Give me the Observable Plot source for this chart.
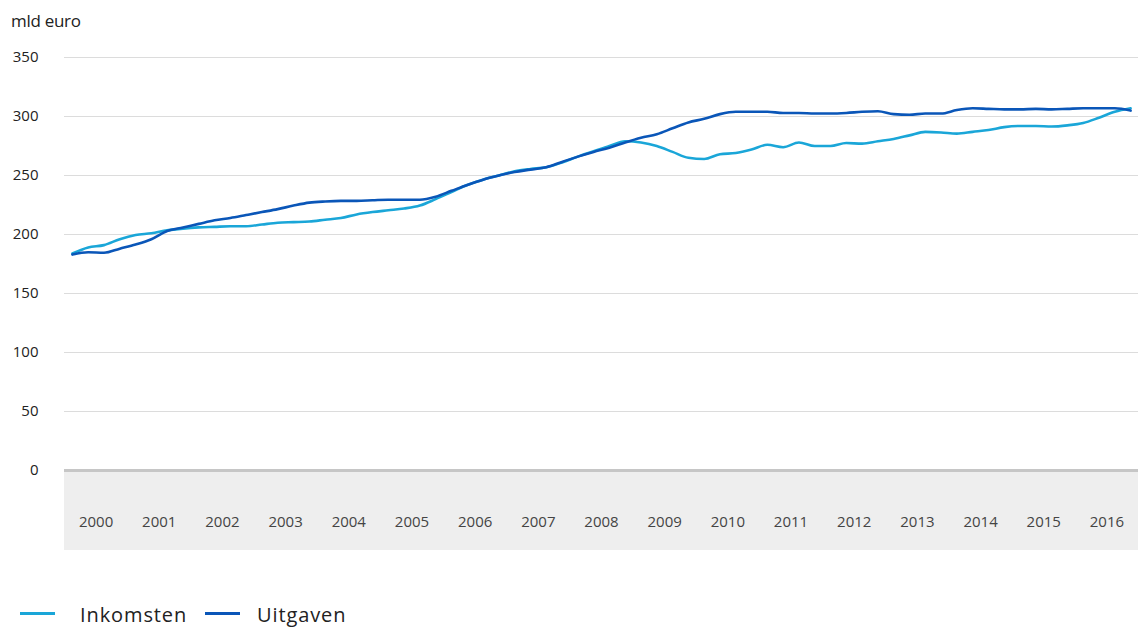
<!DOCTYPE html>
<html>
<head>
<meta charset="utf-8">
<script src="https://cdn.jsdelivr.net/npm/d3@7"></script>
<script src="https://cdn.jsdelivr.net/npm/@observablehq/plot@0.6"></script>
<style>
  html, body { margin: 0; padding: 0; background: #fff; }
  #wrap { position: relative; width: 1140px; height: 628px; overflow: hidden; font-family: "Open Sans", "Noto Sans", sans-serif; }
  #band { position: absolute; left: 64px; top: 471px; width: 1074px; height: 79px; background: #eeeeee; }
  #chart { position: absolute; left: 0; top: 0; }
  #unit { position: absolute; left: 11px; top: 9px; font-size: 17px; color: #222; letter-spacing: -0.3px; }
  #legend { position: absolute; left: 0; top: 600px; width: 600px; height: 26px; font-size: 20px; line-height: 24px; color: #222; }
  .sw { position: absolute; top: 12px; width: 35px; height: 3px; }
  .lab { position: absolute; top: 3px; letter-spacing: 0.9px; white-space: nowrap; }
</style>
</head>
<body>
<div id="wrap">
  <div id="band"></div>
  <div id="chart"></div>
  <div id="unit">mld euro</div>
  <div id="legend"></div>
</div>
<script>
const years = [2000, 2001, 2002, 2003, 2004, 2005, 2006, 2007, 2008, 2009, 2010, 2011, 2012, 2013, 2014, 2015, 2016];
const seriesNames = ["Inkomsten", "Uitgaven"];
const seriesColors = ["#1aa6d8", "#0a56b8"];
const yTicks = [0, 50, 100, 150, 200, 250, 300, 350];

// quarterly values, 2000 Q1 .. 2016 Q4 (mld euro)
const inkomsten = [
  184, 189, 191, 196,
  199.5, 201, 203.5, 205,
  206, 206.5, 207, 207,
  208.5, 210, 210.5, 211,
  212.5, 214, 217, 219,
  220.5, 222, 224.5, 230,
  236, 242, 246.5, 250,
  253.5, 255.5, 257, 261,
  266, 270.5, 275, 279,
  278, 275, 270, 265,
  264, 268, 269, 272,
  276, 274, 278, 275,
  275, 277.5, 277, 279,
  281, 284, 287, 286.5,
  285.5, 287, 288.5, 291,
  292, 292, 291.5, 292.5,
  294.5, 299, 304, 307
];
const uitgaven = [
  183, 185, 184.5, 188,
  191.5, 196, 203, 206,
  209, 212, 214, 216.5,
  219, 221.5, 224.5, 227,
  228, 228.5, 228.5, 229,
  229.5, 229.5, 229.5, 232,
  237, 242, 246.5, 250,
  253, 255, 257, 261.5,
  266, 270, 273.5, 278,
  282, 285, 290, 295,
  298, 302, 304, 304,
  304, 303, 303, 302.5,
  302.5, 303, 304, 304.5,
  302, 301.5, 302.5, 302.5,
  305.5, 307, 306.5, 306,
  306, 306.5, 306, 306.5,
  307, 307, 307, 305
];

const rows = [];
[inkomsten, uitgaven].forEach((vals, s) => {
  vals.forEach((v, i) => {
    const yr = years[Math.floor(i / 4)];
    rows.push({ series: seriesNames[s], t: yr + ((i % 4) + 0.5) / 4, value: v });
  });
});

const plot = Plot.plot({
  width: 1140,
  height: 560,
  marginLeft: 64,
  marginRight: 2,
  marginTop: 57,
  marginBottom: 90,
  style: { fontFamily: "'Open Sans', 'Noto Sans', sans-serif", background: "transparent" },
  x: { domain: [2000, 2017], axis: null },
  y: { domain: [0, 350], axis: null },
  color: { domain: seriesNames, range: seriesColors },
  marks: [
    Plot.gridY(yTicks.filter(d => d > 0), { stroke: "#dcdcdc", strokeOpacity: 1, strokeWidth: 1.2 }),
    Plot.ruleY([0], { stroke: "#c6c6c6", strokeWidth: 3 }),
    Plot.axisY(yTicks, { tickSize: 0, tickPadding: 26, fontSize: 15, fill: "#222", label: null }),
    Plot.axisX(years.map(y => y + 0.5), {
      tickSize: 0, tickPadding: 46, fontSize: 15, fill: "#444",
      tickFormat: d => String(Math.floor(d)), label: null
    }),
    Plot.line(rows, { x: "t", y: "value", z: "series", stroke: "series", strokeWidth: 2.6, curve: "monotone-x" })
  ]
});
document.getElementById("chart").appendChild(plot);

const legend = document.getElementById("legend");
const swatchLeft = [20, 205];
const labelLeft = [80, 257];
seriesNames.forEach((n, i) => {
  const sw = document.createElement("span");
  sw.className = "sw";
  sw.style.left = swatchLeft[i] + "px";
  sw.style.background = seriesColors[i];
  legend.appendChild(sw);
  const lab = document.createElement("span");
  lab.className = "lab";
  lab.style.left = labelLeft[i] + "px";
  lab.textContent = n;
  legend.appendChild(lab);
});
</script>
</body>
</html>
